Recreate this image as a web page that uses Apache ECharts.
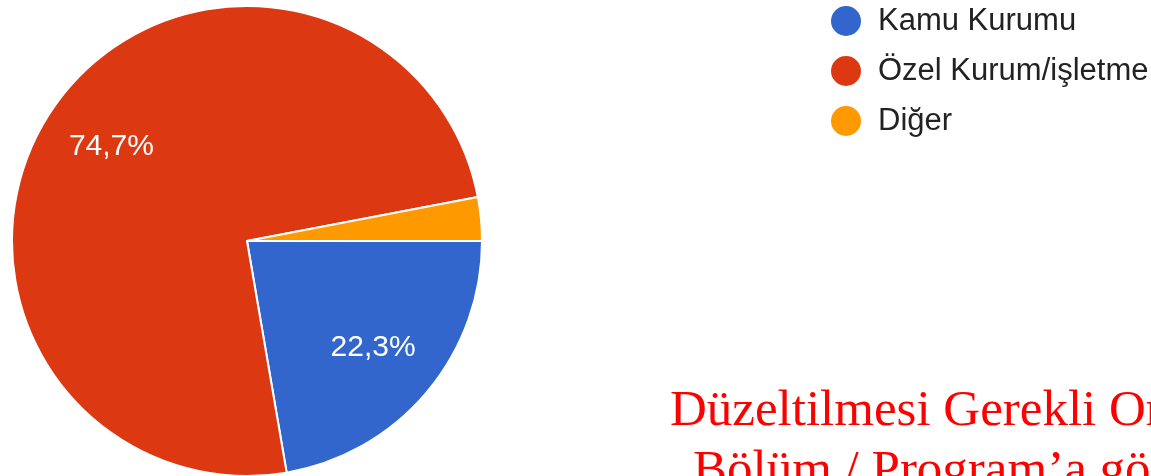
<!DOCTYPE html>
<html>
<head>
    <meta charset="utf-8">
    <title>Pie</title>
    <script src="https://cdn.jsdelivr.net/npm/echarts@6/dist/echarts.min.js"></script>
    <style>
        html, body { margin: 0; padding: 0; background: #fff; }
        #main { width: 1151px; height: 476px; }
    </style>
</head>
<body>
<div id="main"></div>
<script type="text/javascript">
    // data
    var categories = ["Kamu Kurumu", "Özel Kurum/işletme", "Diğer"];
    var values = [22.3, 74.7, 3.0];
    var colors = ["#3366cc", "#dc3912", "#ff9900"];
    var noteLines = ["Düzeltilmesi Gerekli Or", "Bölüm / Program’a gö"];

    var pieData = [];
    var labelData = [];
    var legendData = [];
    for (var i = 0; i < categories.length; i++) {
        pieData.push({ name: categories[i], value: values[i], itemStyle: { color: colors[i] } });
        labelData.push({
            name: categories[i], value: values[i],
            label: { show: values[i] > 5 }
        });
        legendData.push({ name: categories[i], itemStyle: { color: colors[i] } });
    }

    var chart = echarts.init(document.getElementById("main"));
    var option = {
        animation: false,
        legend: {
            orient: "vertical",
            left: 829,
            top: 4,
            padding: 0,
            icon: "circle",
            itemWidth: 32,
            itemHeight: 32,
            itemGap: 16,
            data: legendData,
            textStyle: {
                fontFamily: "Liberation Sans", fontSize: 31, lineHeight: 32,
                color: "#222222", padding: [0, 0, 0, 11]
            }
        },
        series: [
            {
                type: "pie",
                center: [247, 241],
                radius: [0, 235],
                startAngle: 0,
                clockwise: true,
                silent: true,
                label: { show: false },
                labelLine: { show: false },
                itemStyle: { borderColor: "#ffffff", borderWidth: 2 },
                data: pieData
            },
            {
                // transparent twin so the percent labels sit at ~0.68 r
                type: "pie",
                center: [247, 241],
                radius: [0, 324],
                startAngle: 0,
                clockwise: true,
                silent: true,
                itemStyle: { color: "rgba(0,0,0,0)" },
                label: {
                    position: "inside",
                    color: "#ffffff",
                    fontFamily: "Liberation Sans",
                    fontSize: 30,
                    formatter: function (p) {
                        return p.value.toFixed(1).replace(".", ",") + "%";
                    }
                },
                labelLine: { show: false },
                data: labelData
            }
        ],
        graphic: [
            {
                type: "text", left: 670, top: 386,
                style: { text: noteLines[0], fill: "#ff0000", font: "51px 'Liberation Serif'" }
            },
            {
                type: "text", left: 693, top: 446,
                style: { text: noteLines[1], fill: "#ff0000", font: "51px 'Liberation Serif'" }
            }
        ]
    };
    chart.setOption(option);
</script>
</body>
</html>
